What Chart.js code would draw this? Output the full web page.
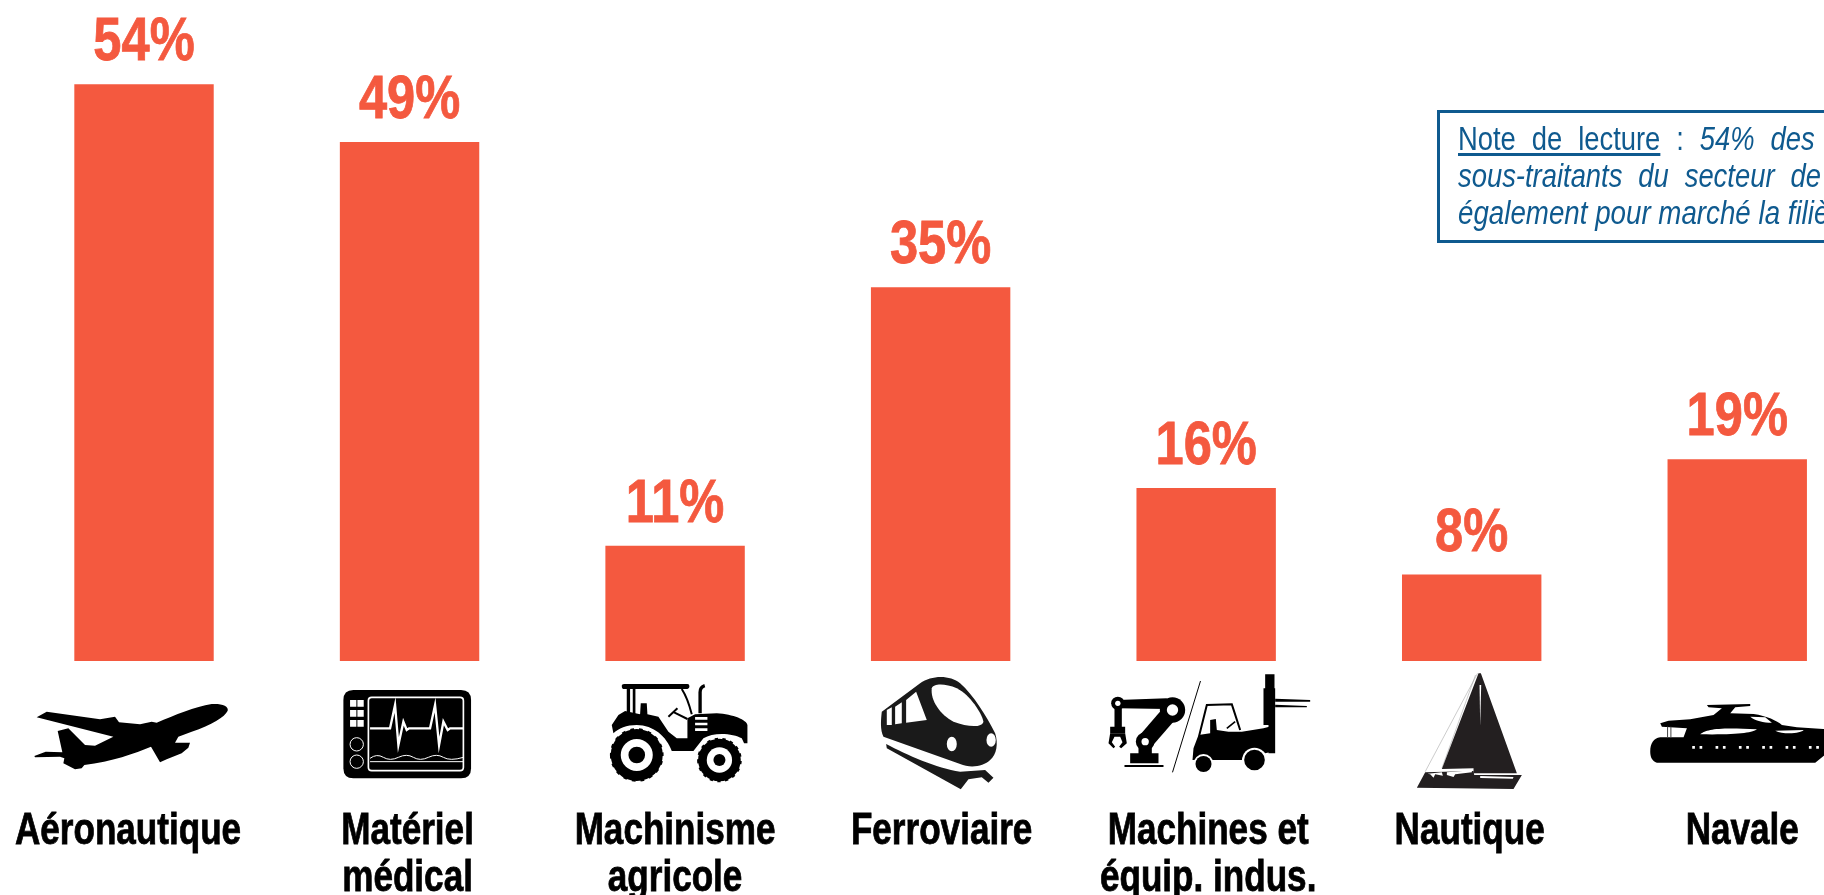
<!DOCTYPE html>
<html lang="fr">
<head>
<meta charset="utf-8">
<title>Marchés des sous-traitants</title>
<script src="https://cdn.jsdelivr.net/npm/chart.js@4/dist/chart.umd.min.js"></script>
<style>
  html, body { margin: 0; padding: 0; width: 1824px; height: 895px; overflow: hidden; background: #fff; }
  #wrap { position: absolute; left: 0; top: 0; width: 1870px; height: 895px; }
  #note {
    position: absolute; left: 1437px; top: 110px; width: 500px; height: 127px;
    border: 3px solid #0f5a8f; color: #0f5a8f;
    font: italic 33px/37px "Liberation Sans", sans-serif;
    white-space: nowrap;
  }
  #note div { position: absolute; left: 18px; transform: scaleX(0.83); transform-origin: left top; word-spacing: 10px; }
  #note u { font-style: normal; text-decoration-thickness: 3px; text-underline-offset: 3px; }
  #note span { font-style: normal; }
</style>
</head>
<body>
<div id="wrap"><canvas id="myChart"></canvas></div>
<div id="note">
  <div style="top:7px"><u>Note de lecture</u> <span>:</span> 54% des</div>
  <div style="top:44px">sous-traitants du secteur de</div>
  <div style="top:81px;word-spacing:0;transform:scaleX(0.84)">également pour marché la filière</div>
</div>
<script>
// valeurs
const categories = [
  ['Aéronautique'],
  ['Matériel', 'médical'],
  ['Machinisme', 'agricole'],
  ['Ferroviaire'],
  ['Machines et', 'équip. indus.'],
  ['Nautique'],
  ['Navale']
];
const parts = [54, 48.6, 10.8, 35, 16.2, 8.1, 18.9];

const ORANGE = '#f4593f';
const FONT = '"Liberation Sans", sans-serif';
// les libelles ne sont pas tout a fait centres sous les barres
const decalage = [-16, -2, 0, 1, 2, -2, 5];

/* pictos : chemins tracés à l'échelle x3, dx/dy depuis le pied de la barre */
const K = '#000', W = '#fff';
const circle = (x, y, r) => `M${x - r},${y}a${r},${r} 0 1,0 ${2 * r},0a${r},${r} 0 1,0 ${-2 * r},0Z`;
const icons = [
  { dx: -119, dy: 19, parts: [
    [K, 'M35,112 L65,95 L225,118 L270,110 L282,127 L345,133 L380,125 L395,128 C450,105 510,80 560,72 C590,70 612,78 608,92 C600,110 560,135 500,155 L460,170 L450,188 L495,188 L490,203 L470,220 L425,238 L405,247 L378,200 C330,220 260,245 178,255 L170,265 L150,268 L115,250 L118,235 L105,230 L30,232 L28,228 L62,215 L112,217 L98,153 L130,145 L180,195 L210,197 L265,170 Z']
  ]},
  { dx: -74.5, dy: 19, parts: [
    [K, 'M55,30 L378,30 Q408,30 408,60 L408,265 Q408,295 378,295 L55,295 Q25,295 25,265 L25,60 Q25,30 55,30 Z'],
    [W, 'M110,52 L375,52 Q385,52 385,62 L385,262 Q385,272 375,272 L110,272 Q100,272 100,262 L100,62 Q100,52 110,52 Z', 5],
    [W, 'M45,60h19v20h-19Z M67,60h19v20h-19Z M45,90h19v20h-19Z M67,90h19v20h-19Z M45,120h19v20h-19Z M67,120h19v20h-19Z'],
    [W, circle(65, 193, 20), 3],
    [W, circle(65, 245, 20), 3],
    [W, 'M105,145 L165,145 L180,75 L190,195 L205,125 L215,150 L222,145 L285,145 L300,75 L312,195 L325,125 L338,150 L345,145 L385,145', 7],
    [W, 'M105,235 Q125,220 145,232 T190,232 T235,232 T280,232 T325,232 T385,232', 3],
    [W, 'M105,245 L385,245', 3]
  ]},
  { dx: -75, dy: 14, parts: [
    [K, 'M65,32 Q65,27 72,27 L262,27 Q268,27 268,34 Q268,42 262,42 L72,42 Q65,42 65,32 Z'],
    [K, 'M80,42h10v78h-10Z M98,42h8v78h-8Z'],
    [K, 'M245,42 C260,65 268,90 275,118', 6],
    [K, 'M300,115 L300,52 Q300,36 314,32', 10],
    [K, 'M40,175 L35,150 L55,120 L75,108 L120,118 L122,85 L140,85 L142,118 L175,125 L205,170 L230,190 L262,190 L262,130 L285,118 L350,115 C400,118 440,135 442,150 L442,205 L432,205 L425,190 C400,175 340,170 310,190 L280,228 L215,228 C200,185 160,150 110,150 C80,150 55,160 40,175 Z'],
    [K, 'M205,125 L232,100 M222,112 L262,132', 6],
    [W, 'M285,126h37v8h-37Z M285,143h37v8h-37Z M285,160h37v8h-37Z'],
    [K, circle(110, 240, 78)],
    [K, circle(110, 240, 76), 9, [11, 15]],
    [W, circle(110, 240, 48)],
    [K, circle(110, 240, 25)],
    [K, circle(358, 255, 64)],
    [K, circle(358, 255, 63), 8, [10, 13]],
    [W, circle(358, 255, 38)],
    [K, circle(358, 255, 18)]
  ]},
  { dx: -70.5, dy: 9, parts: [
    ['#1a1a1a', 'M35,125 L150,40 C185,15 240,15 270,40 C310,75 350,140 375,190 C385,220 380,255 360,270 C340,290 300,295 270,282 L40,200 C30,180 32,150 35,125 Z'],
    [W, 'M185,55 C190,40 225,40 260,55 C300,75 335,130 340,155 C335,175 290,170 250,155 C210,135 180,90 185,55 Z'],
    [W, 'M108,90 L138,65 L170,150 L108,158 Z M75,110 L95,97 L95,160 L75,163 Z M50,120 L65,112 L65,165 L50,165 Z'],
    [W, 'M230,222 a15,22 0 1,0 30,0 a15,22 0 1,0 -30,0 Z M349,210 a14,20 0 1,0 28,0 a14,20 0 1,0 -28,0 Z'],
    ['#1a1a1a', 'M48,222 C110,255 200,295 270,305 L345,300 L370,323 L355,338 L335,322 L295,328 L272,358 L50,235 Z']
  ]},
  { dx: -111, dy: 4, parts: [
    [K, 'M105,265h85v30h-85Z M88,300h117v6h-117Z M130,250h40v15h-40Z'],
    [K, 'M150,230 L232,135', 50],
    [K, 'M68,105 L215,100 L215,132 L70,130 Z'],
    [K, circle(232, 135, 38)], [W, circle(232, 135, 17)],
    [K, circle(150, 230, 28)], [W, circle(150, 230, 11)],
    [K, circle(68, 115, 20)], [W, circle(68, 115, 8)],
    [K, 'M58,130h22v55h-22Z M45,185h45v20h-45Z'],
    [K, 'M45,205 L40,235 L55,250 L60,245 L50,232 L58,215 L75,215 L82,232 L72,245 L78,250 L95,235 L90,205 Z'],
    [K, 'M316,48 L232,322', 3],
    [K, 'M292,285 L295,250 L310,210 L345,205 L345,165 L362,162 L365,195 L400,200 L440,200 L505,190 L522,185 L530,260 L510,265 C500,250 450,250 440,285 Z'],
    [K, 'M312,212 L335,120 L410,118 L435,195', 6],
    [K, 'M395,190 L420,170', 5],
    [K, 'M510,28h28v42h-28Z M505,70h35v110h-35Z M520,180h20v85h-20Z'],
    [K, 'M540,101 L645,105 L645,110 L540,110 Z M540,119 L635,123 L635,127 L540,127 Z'],
    [W, circle(325, 297, 30)], [K, circle(325, 297, 24)],
    [W, circle(478, 285, 37)], [K, circle(478, 285, 31)]
  ]},
  { dx: -71.5, dy: 4, parts: [
    ['#999', 'M232,25 L75,320 M226,30 L125,310', 1.5],
    ['#231f20', 'M235,25 L242,25 L350,325 L220,325 L220,310 L125,312 Z'],
    [W, 'M238,60 L243,60 L240,182 Z'],
    ['#231f20', 'M75,322 L220,318 L222,330 L365,330 L340,372 L50,368 Z'],
    [W, 'M240,333 L340,336 L338,341 L240,339 Z'],
    [W, 'M82,326 L125,322 L128,332 L105,328 L100,338 L90,328 Z M140,322 L215,316 L215,322 L165,328 L160,336 L140,330 Z']
  ]},
  { dx: -97, dy: 29, parts: [
    [K, 'M30,185 C30,160 40,145 60,142 L130,142 L140,115 L65,110 L60,100 L85,92 L150,88 L220,75 L245,55 L205,52 L200,45 L330,42 L330,48 L285,52 L270,70 L340,72 C380,78 410,92 425,105 L470,112 L560,118 L560,190 L525,218 L50,218 C35,212 30,200 30,185 Z'],
    [W, 'M180,133 C200,118 230,112 350,118 C340,128 290,135 180,133 Z M405,122 L490,120 C485,130 430,135 405,122 Z M330,80 L375,82 L395,98 C370,98 345,92 330,80 Z'],
    ['#444', 'M82,110 L82,142 M92,110 L92,142', 3],
    [W, 'M156,168h8v8h-8Z M178,168h8v8h-8Z M226,168h8v8h-8Z M248,168h8v8h-8Z M296,168h8v8h-8Z M318,168h8v8h-8Z M366,168h8v8h-8Z M388,168h8v8h-8Z M436,168h8v8h-8Z M458,168h8v8h-8Z M506,168h8v8h-8Z M528,168h8v8h-8Z']
  ]}
];

const pictos = {
  id: 'pictos',
  afterDraw(chart) {
    const ctx = chart.ctx, xs = chart.scales.x, base = chart.scales.y.getPixelForValue(0);
    icons.forEach((ic, i) => {
      ctx.save();
      ctx.translate(xs.getPixelForTick(i) + ic.dx, base + ic.dy);
      ctx.scale(1 / 3, 1 / 3);
      ic.parts.forEach(p => {
        const path = new Path2D(p[1]);
        if (p[2]) {
          ctx.strokeStyle = p[0];
          ctx.lineWidth = p[2];
          ctx.setLineDash(p[3] || []);
          ctx.stroke(path);
        } else {
          ctx.fillStyle = p[0];
          ctx.fill(path);
        }
      });
      ctx.restore();
    });
  }
};

// pas de police étroite installée : on resserre le texte a la main
const texte = (ctx, str, x, y, sx) => {
  ctx.save();
  ctx.translate(x, y);
  ctx.scale(sx, 1);
  ctx.fillText(str, 0, 0);
  ctx.strokeText(str, 0, 0);
  ctx.restore();
};

const etiquettes = {
  id: 'etiquettes',
  afterDraw(chart) {
    const ctx = chart.ctx, xs = chart.scales.x, base = chart.scales.y.getPixelForValue(0);
    ctx.save();
    ctx.textAlign = 'center';
    ctx.textBaseline = 'alphabetic';
    ctx.lineWidth = 0.8;
    ctx.fillStyle = ctx.strokeStyle = ORANGE;
    ctx.font = 'bold 61px ' + FONT;
    chart.getDatasetMeta(0).data.forEach((bar, i) => {
      texte(ctx, Math.round(parts[i]) + '%', bar.x, bar.y - 24, 0.83);
    });
    ctx.fillStyle = ctx.strokeStyle = '#000';
    ctx.font = 'bold 45px ' + FONT;
    categories.forEach((lignes, i) => {
      lignes.forEach((l, n) => {
        texte(ctx, l, xs.getPixelForTick(i) + decalage[i], base + 183 + n * 46.5, 0.78);
      });
    });
    ctx.restore();
  }
};

new Chart(document.getElementById('myChart'), {
  type: 'bar',
  data: {
    labels: categories,
    datasets: [{ data: parts, backgroundColor: ORANGE, barPercentage: 0.525, categoryPercentage: 1 }]
  },
  options: {
    responsive: true,
    maintainAspectRatio: false,
    animation: false,
    layout: { padding: { left: 11.25, right: 0, top: 0, bottom: 0 } },
    plugins: { legend: { display: false }, tooltip: { enabled: false } },
    scales: {
      y: { display: false, min: 0, max: 61.9 },
      x: {
        afterFit(scale) { scale.height = 234; },
        grid: { display: false, drawTicks: false },
        border: { display: false },
        ticks: { display: false }
      }
    }
  },
  plugins: [etiquettes, pictos]
});
</script>
</body>
</html>
